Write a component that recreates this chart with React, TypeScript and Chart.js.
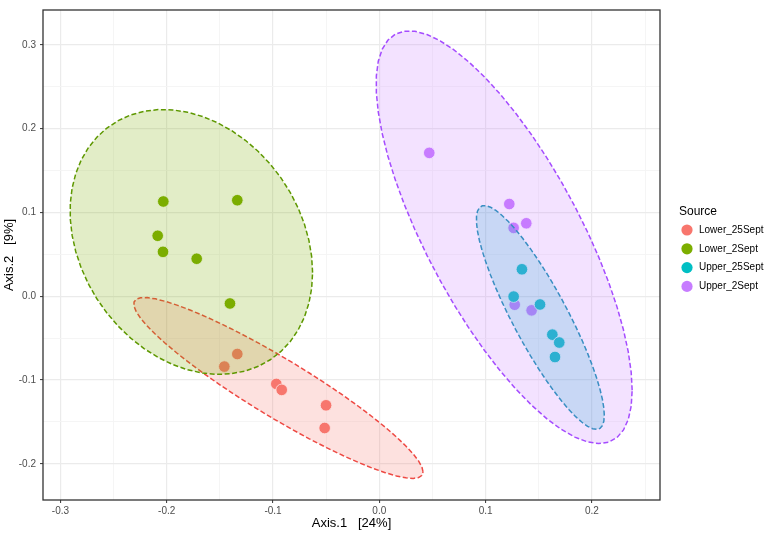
import { useEffect, useRef } from 'react';
import { Chart, registerables } from 'chart.js';

Chart.register(...registerables);

const sources = ['Lower_25Sept', 'Lower_2Sept', 'Upper_25Sept', 'Upper_2Sept'];
const colors = ['#F8766D', '#7CAE00', '#00BFC4', '#C77CFF'];
const strokes = ['#EE4A44', '#5E9800', '#1194B2', '#A54CFF'];
const fills = ['rgba(248,118,109,0.22)', 'rgba(124,174,0,0.22)', 'rgba(0,191,196,0.22)', 'rgba(199,124,255,0.22)'];

// Axis.1 / Axis.2 scores per sample
const lower25X = [-0.1336, -0.1458, -0.0969, -0.0918, -0.0501, -0.0514];
const lower25Y = [-0.069, -0.084, -0.1047, -0.1118, -0.1302, -0.1573];
const lower2X = [-0.2032, -0.1336, -0.2085, -0.2035, -0.1718, -0.1405];
const lower2Y = [0.113, 0.1145, 0.0721, 0.0529, 0.0447, -0.0087];
const upper25X = [0.1342, 0.1264, 0.1512, 0.1628, 0.1693, 0.1653];
const upper25Y = [0.0321, -0.0005, -0.0099, -0.0459, -0.0553, -0.0726];
const upper2X = [0.047, 0.1223, 0.1383, 0.1264, 0.1274, 0.1433];
const upper2Y = [0.171, 0.11, 0.087, 0.0815, -0.0102, -0.0169];

const groupsX = [lower25X, lower2X, upper25X, upper2X];
const groupsY = [lower25Y, lower2Y, upper25Y, upper2Y];

const xTicks = [-0.3, -0.25, -0.2, -0.15, -0.1, -0.05, 0, 0.05, 0.1, 0.15, 0.2, 0.25];
const yTicks = [-0.2, -0.15, -0.1, -0.05, 0, 0.05, 0.1, 0.15, 0.2, 0.25, 0.3];

const FONT = '"Liberation Sans", Arial, sans-serif';

const isMajor = (v: number) => Math.abs(v * 10 - Math.round(v * 10)) < 1e-6;

// 95% confidence ellipse, same recipe as ggplot2 stat_ellipse (type = "norm")
function confidenceEllipse(xs: number[], ys: number[], level = 0.95, segments = 51) {
  const n = xs.length;
  const mx = xs.reduce((a, b) => a + b, 0) / n;
  const my = ys.reduce((a, b) => a + b, 0) / n;
  let sxx = 0, syy = 0, sxy = 0;
  for (let i = 0; i < n; i++) {
    sxx += (xs[i] - mx) ** 2;
    syy += (ys[i] - my) ** 2;
    sxy += (xs[i] - mx) * (ys[i] - my);
  }
  sxx /= n - 1; syy /= n - 1; sxy /= n - 1;
  const dfd = n - 1;
  // F(2, dfd) quantile has a closed form
  const qf = (dfd / 2) * (Math.pow(1 - level, -2 / dfd) - 1);
  const radius = Math.sqrt(2 * qf);
  const r11 = Math.sqrt(sxx);
  const r12 = sxy / r11;
  const r22 = Math.sqrt(syy - r12 * r12);
  const pts = [];
  for (let k = 0; k <= segments; k++) {
    const a = (k * 2 * Math.PI) / segments;
    const c = Math.cos(a), s = Math.sin(a);
    pts.push({ x: mx + radius * c * r11, y: my + radius * (c * r12 + s * r22) });
  }
  return pts;
}

const legendPlugin = {
  id: 'sourceLegend',
  afterDraw(chart: Chart) {
    const { ctx } = chart;
    ctx.save();
    ctx.textBaseline = 'middle';
    ctx.fillStyle = '#000';
    ctx.font = `12px ${FONT}`;
    ctx.fillText('Source', 679, 212);
    ctx.font = `10px ${FONT}`;
    sources.forEach((s, i) => {
      const y = 230 + i * 18.8;
      ctx.beginPath();
      ctx.arc(687, y, 5.6, 0, Math.PI * 2);
      ctx.fillStyle = colors[i];
      ctx.fill();
      ctx.fillStyle = '#000';
      ctx.fillText(s, 699, y);
    });
    ctx.restore();
  },
};

const framePlugin = {
  id: 'panelFrame',
  afterDatasetsDraw(chart: Chart) {
    const { ctx, chartArea: a } = chart;
    ctx.save();
    ctx.strokeStyle = '#333333';
    ctx.lineWidth = 1.3;
    ctx.strokeRect(a.left, a.top, a.right - a.left, a.bottom - a.top);
    ctx.restore();
  },
};

export default function App() {
  const canvasRef = useRef<HTMLCanvasElement>(null);

  useEffect(() => {
    document.body.style.margin = '0';
    if (!canvasRef.current) return;

    const pointSets = sources.map((label, i) => ({
      type: 'scatter' as const,
      label,
      data: groupsX[i].map((x, j) => ({ x, y: groupsY[i][j] })),
      backgroundColor: colors[i],
      borderColor: 'rgba(255,255,255,0.85)',
      borderWidth: 1,
      pointRadius: 5.8,
      order: 10 + i,
    }));

    const ellipseSets = sources.map((label, i) => ({
      type: 'line' as const,
      label: label + ' ellipse',
      data: confidenceEllipse(groupsX[i], groupsY[i]),
      borderColor: strokes[i],
      backgroundColor: fills[i],
      borderWidth: 1.5,
      borderDash: [5, 2.5],
      pointRadius: 0,
      tension: 0,
      fill: 'shape',
      order: 4 - i,
    }));

    const gridOpts = {
      color: (c: any) => (isMajor(c.tick?.value ?? 0) ? '#EBEBEB' : '#F4F4F4'),
      lineWidth: (c: any) => (isMajor(c.tick?.value ?? 0) ? 1.2 : 0.9),
      tickLength: 3,
      tickColor: (c: any) => (isMajor(c.tick?.value ?? 0) ? '#333333' : 'rgba(0,0,0,0)'),
      tickWidth: 1,
    };

    const tickLabel = (v: any) => (isMajor(Number(v)) ? Number(v).toFixed(1) : '');

    const chart = new Chart(canvasRef.current, {
      type: 'scatter',
      data: { datasets: [...pointSets, ...ellipseSets] as any },
      options: {
        animation: false,
        responsive: true,
        maintainAspectRatio: false,
        events: [],
        layout: { padding: { top: 3, right: 105, left: 0, bottom: 0 } },
        plugins: {
          legend: { display: false },
          tooltip: { enabled: false },
        },
        scales: {
          x: {
            type: 'linear',
            min: -0.3164,
            max: 0.2641,
            afterBuildTicks: (s: any) => { s.ticks = xTicks.map((value) => ({ value })); },
            afterFit: (s: any) => { s.height = 33; },
            grid: gridOpts,
            border: { display: false },
            ticks: {
              autoSkip: false,
              maxRotation: 0,
              padding: 2,
              color: '#4D4D4D',
              font: { family: FONT, size: 10 },
              callback: tickLabel,
            },
            title: {
              display: true,
              text: 'Axis.1   [24%]',
              color: '#000',
              font: { family: FONT, size: 13 },
              padding: { top: 0, bottom: 2 },
            },
          },
          y: {
            type: 'linear',
            min: -0.2432,
            max: 0.3415,
            afterBuildTicks: (s: any) => { s.ticks = yTicks.map((value) => ({ value })); },
            afterFit: (s: any) => { s.width = 43; },
            grid: gridOpts,
            border: { display: false },
            ticks: {
              autoSkip: false,
              padding: 4,
              color: '#4D4D4D',
              font: { family: FONT, size: 10 },
              callback: tickLabel,
            },
            title: {
              display: true,
              text: 'Axis.2   [9%]',
              color: '#000',
              font: { family: FONT, size: 13 },
              padding: { top: 2, bottom: 0 },
            },
          },
        },
      },
      plugins: [legendPlugin, framePlugin],
    });

    return () => chart.destroy();
  }, []);

  return (
    <div style={{ position: 'relative', width: 765, height: 533 }}>
      <canvas ref={canvasRef} />
    </div>
  );
}
